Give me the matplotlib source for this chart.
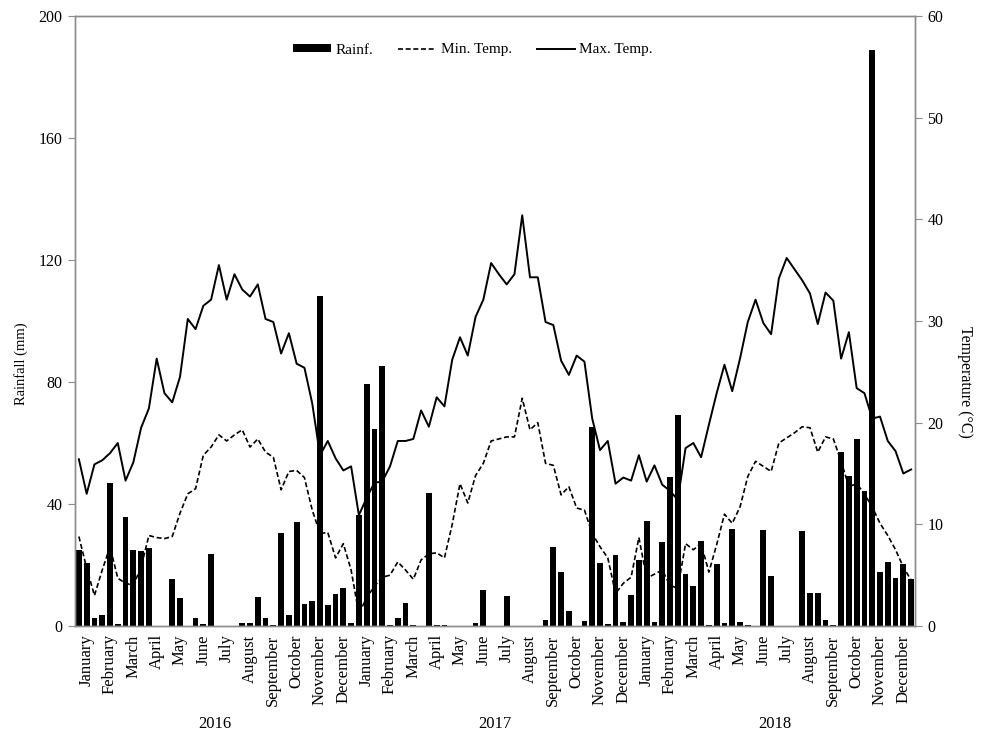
import matplotlib.pyplot as plt
import numpy as np
from matplotlib.lines import Line2D
from matplotlib.patches import Patch

plt.rcParams['font.family'] = ['Liberation Serif', 'DejaVu Serif']

# ten-day periods, 3 per month, Jan 2016 - Dec 2018
months = ['January', 'February', 'March', 'April', 'May', 'June', 'July',
          'August', 'September', 'October', 'November', 'December']
years = ['2016', '2017', '2018']

rain_2016 = [24.9, 20.8, 2.5, 3.7, 46.8, 0.8, 35.6, 24.9, 24.6, 25.7, 0, 0,
             15.3, 9.1, 0, 2.7, 0.6, 23.6, 0, 0, 0, 1.0, 1.0, 9.5,
             2.5, 0.3, 30.4, 3.7, 34.2, 7.2, 8.2, 108.2, 6.8, 10.6, 12.4, 1.0]
rain_2017 = [36.4, 79.3, 64.6, 85.3, 0.2, 2.6, 7.7, 0.2, 0, 43.5, 0.3, 0.3,
             0, 0, 0, 0.9, 11.7, 0, 0, 9.9, 0, 0, 0, 0,
             2.0, 25.8, 17.8, 4.8, 0, 1.7, 65.1, 20.8, 0.8, 23.3, 1.4, 10.3]
rain_2018 = [21.6, 34.4, 1.2, 27.6, 49.0, 69.2, 17.2, 13.1, 28.0, 0.2, 20.3, 0.9,
             31.9, 1.2, 0.3, 0, 31.5, 16.4, 0, 0, 0, 31.0, 10.7, 10.7,
             2.0, 0.3, 57.1, 49.2, 61.2, 44.2, 189.0, 17.6, 21.0, 15.6, 20.4, 15.3]

tmin_2016 = [8.8, 5.7, 3.0, 5.5, 7.8, 4.7, 4.2, 4.0, 5.8, 8.9, 8.7, 8.6,
             8.8, 11.1, 13.0, 13.5, 16.8, 17.6, 18.8, 18.2, 18.8, 19.3, 17.6, 18.4,
             17.1, 16.6, 13.4, 15.2, 15.3, 14.6, 11.4, 9.1, 9.2, 6.7, 8.1, 5.5]
tmin_2017 = [1.2, 2.8, 3.9, 4.8, 5.0, 6.3, 5.5, 4.6, 6.5, 7.1, 7.2, 6.7,
             10.0, 14.0, 12.1, 14.8, 16.0, 18.2, 18.4, 18.6, 18.6, 22.4, 19.3, 20.0,
             16.0, 15.8, 12.9, 13.7, 11.6, 11.4, 9.1, 7.8, 6.7, 3.2, 4.2, 4.8]
tmin_2018 = [8.7, 4.7, 5.1, 5.5, 4.0, 3.7, 8.1, 7.5, 8.1, 5.3, 8.0, 11.0,
             10.1, 11.7, 14.7, 16.2, 15.7, 15.2, 18.0, 18.5, 19.0, 19.6, 19.5, 17.1,
             18.6, 18.4, 16.2, 13.7, 14.0, 13.0, 11.7, 10.1, 8.9, 7.5, 5.8, 4.5]

tmax_2016 = [16.4, 13.0, 15.9, 16.3, 17.0, 18.0, 14.3, 16.1, 19.5, 21.4, 26.3, 22.9,
             22.0, 24.5, 30.2, 29.2, 31.5, 32.1, 35.5, 32.1, 34.6, 33.1, 32.4, 33.6,
             30.2, 29.9, 26.8, 28.8, 25.8, 25.4, 21.9, 16.8, 18.2, 16.5, 15.3, 15.7]
tmax_2017 = [10.9, 12.6, 14.1, 14.2, 15.7, 18.2, 18.2, 18.4, 21.2, 19.6, 22.5, 21.6,
             26.2, 28.4, 26.6, 30.4, 32.1, 35.7, 34.6, 33.6, 34.6, 40.4, 34.3, 34.3,
             29.9, 29.6, 26.1, 24.7, 26.6, 26.0, 20.4, 17.3, 18.2, 14.0, 14.6, 14.3]
tmax_2018 = [16.8, 14.2, 15.8, 13.9, 13.3, 12.4, 17.5, 18.0, 16.6, 19.8, 22.9, 25.7,
             23.1, 26.3, 29.9, 32.1, 29.8, 28.7, 34.2, 36.2, 35.1, 34.0, 32.7, 29.7,
             32.8, 32.0, 26.3, 28.9, 23.4, 22.9, 20.4, 20.6, 18.2, 17.2, 15.0, 15.4]

rain = np.array(rain_2016 + rain_2017 + rain_2018)
tmin = np.array(tmin_2016 + tmin_2017 + tmin_2018)
tmax = np.array(tmax_2016 + tmax_2017 + tmax_2018)
x = np.arange(len(rain))

fig = plt.figure(figsize=(9.88, 7.34), dpi=100)
ax = fig.add_axes([75/988, 1 - 626/734, 840/988, 610/734])

ax.bar(x, rain, width=0.74, color='black', zorder=2)
ax.set_xlim(-0.5, len(rain) - 0.5)
ax.set_ylim(0, 200)
ax.set_yticks(range(0, 201, 40))
ax.set_ylabel('Rainfall (mm)', fontsize=10.5)
ax.yaxis.set_label_coords(-0.056, 0.43)

ax2 = ax.twinx()
ax2.plot(x, tmin, color='black', lw=1.2, ls=(0, (3, 1.6)))
ax2.plot(x, tmax, color='black', lw=1.4)
ax2.set_ylim(0, 60)
ax2.set_yticks(range(0, 61, 10))
ax2.set_ylabel('Temperature (°C)', fontsize=11.5, rotation=270, va='center')
ax2.yaxis.set_label_coords(1.06, 0.40)

# month names under every middle ten-day period
ax.set_xticks(3 * np.arange(len(months) * len(years)) + 1)
ax.set_xticklabels(months * len(years), rotation=90, fontsize=12)
ax.tick_params(axis='x', length=0, pad=6)
ax.tick_params(axis='y', labelsize=11.5, length=5, color='#8c8c8c', pad=4)
ax2.tick_params(axis='y', labelsize=11.5, length=5, color='#8c8c8c', pad=4)

for k, yr in enumerate(years):
    ax.text(36 * k + 17.5, -0.16, yr, transform=ax.get_xaxis_transform(),
            ha='center', va='center', fontsize=12)

for a in (ax, ax2):
    for s in a.spines.values():
        s.set_color('#8c8c8c')
        s.set_linewidth(1.0)

handles = [Patch(facecolor='black'),
           Line2D([], [], color='black', lw=1.2, ls=(0, (3, 1.6))),
           Line2D([], [], color='black', lw=1.4)]
fig.legend(handles, ['Rainf.', 'Min. Temp.', 'Max. Temp.'], loc='center',
           bbox_to_anchor=(473/988, 1 - 50/734), ncol=3, frameon=False,
           fontsize=11, handlelength=2.5, handleheight=0.4,
           handletextpad=0.3, columnspacing=1.6)

fig.savefig('out.png', dpi=100)
